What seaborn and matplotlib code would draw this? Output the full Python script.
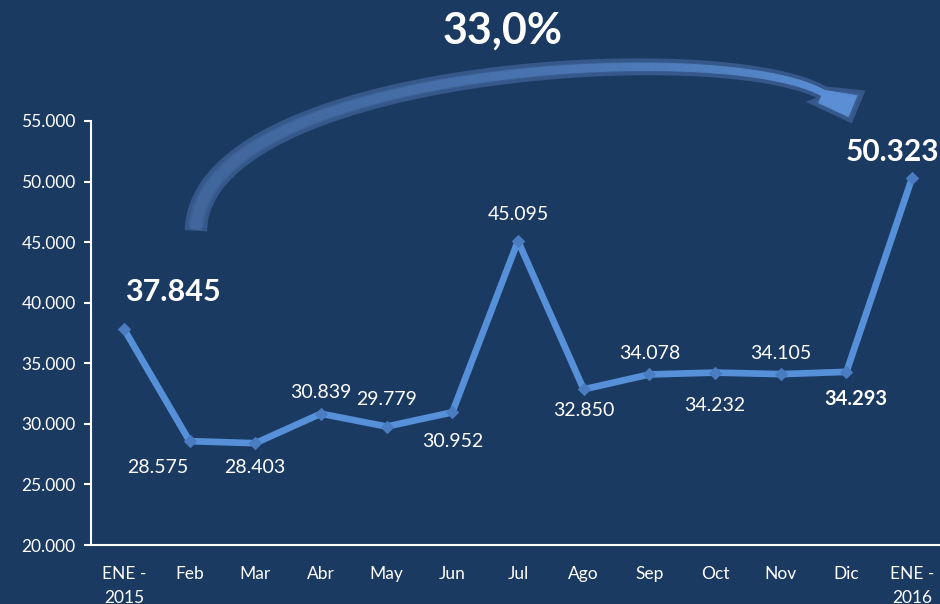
import matplotlib
matplotlib.use('Agg')

import numpy as np
import pandas as pd
import matplotlib.pyplot as plt
import seaborn as sns
from matplotlib.patches import Polygon
from matplotlib.ticker import FuncFormatter, MultipleLocator, FixedLocator

# --- Datos ---
meses = ['ENE -\n2015', 'Feb', 'Mar', 'Abr', 'May', 'Jun', 'Jul',
         'Ago', 'Sep', 'Oct', 'Nov', 'Dic', 'ENE -\n2016']
valores = [37845, 28575, 28403, 30839, 29779, 30952, 45095,
           32850, 34078, 34232, 34105, 34293, 50323]
variacion = '33,0%'

# desplazamiento de cada etiqueta (px) y estilo
offsets = [(49, 37), (-32, -26), (0, -24), (0, 21), (0, 27), (0, -29), (0, 26),
           (0, -21), (0, 21), (0, -33), (0, 21), (9, -27), (-20, 26)]
negritas = {0: 22, 11: 14.5, 12: 21.5}

BG = '#1B3A62'
LINEA = '#5690D9'
MARCA = '#4A7CC2'
TEXTO = '#FFFFFF'

sns.set_theme(style='white')
plt.rcParams.update({
    'figure.facecolor': BG, 'axes.facecolor': BG,
    'axes.edgecolor': TEXTO, 'text.color': TEXTO,
    'xtick.color': TEXTO, 'ytick.color': TEXTO,
})
plt.rcParams['font.family'] = ['Lato', 'DejaVu Sans']

df = pd.DataFrame({'pos': np.arange(len(meses)), 'valor': valores})

fig = plt.figure(figsize=(9.4, 6.04), dpi=100)
ax = fig.add_axes([91 / 940, 59 / 604, 854 / 940, 424 / 604])

sns.lineplot(data=df, x='pos', y='valor', ax=ax, color=LINEA, linewidth=4.8,
             marker='D', markersize=6.5, markerfacecolor=MARCA,
             markeredgecolor=MARCA, sort=False, zorder=3)

ax.set_xlim(-0.5, len(meses) - 0.5)
ax.set_ylim(20000, 55000)
ax.yaxis.set_major_locator(MultipleLocator(5000))
ax.yaxis.set_major_formatter(FuncFormatter(lambda v, p: f'{int(v):,}'.replace(',', '.')))
ax.set_xticks(df['pos'])
ax.set_xticklabels(meses, linespacing=1.6)
ax.xaxis.set_minor_locator(FixedLocator(np.arange(-0.5, len(meses), 1.0)))
ax.tick_params(axis='x', which='major', length=0, pad=15, labelsize=12.5)
ax.tick_params(axis='x', which='minor', length=5, width=1.5, direction='out', color=TEXTO)
ax.tick_params(axis='y', which='major', length=5, width=1.5, direction='out',
               labelsize=12.5, pad=6, left=True)
ax.set_xlabel('')
ax.set_ylabel('')
for lado in ['top', 'right']:
    ax.spines[lado].set_visible(False)
for lado in ['left', 'bottom']:
    ax.spines[lado].set_linewidth(1.5)
    ax.spines[lado].set_color(TEXTO)

# etiquetas de datos
for i, v in enumerate(valores):
    dx, dy = offsets[i]
    txt = f'{v:,}'.replace(',', '.')
    if i in negritas:
        ax.annotate(txt, (i, v), xytext=(dx * 0.72, dy * 0.72), textcoords='offset points',
                    ha='center', va='center', fontsize=negritas[i], fontweight='bold',
                    color=TEXTO, zorder=5)
    else:
        ax.annotate(txt, (i, v), xytext=(dx * 0.72, dy * 0.72), textcoords='offset points',
                    ha='center', va='center', fontsize=14, color=TEXTO, zorder=5)

# --- Flecha curva decorativa (coordenadas en píxeles de la figura) ---
capa = fig.add_axes([0, 0, 1, 1], facecolor='none')
capa.set_xlim(0, 940)
capa.set_ylim(604, 0)
capa.axis('off')

P = np.array([[196, 229], [203, 68], [720, 36], [823, 93]], dtype=float)
t = np.linspace(0, 1, 240)[:, None]
curva = ((1 - t) ** 3 * P[0] + 3 * (1 - t) ** 2 * t * P[1]
         + 3 * (1 - t) * t ** 2 * P[2] + t ** 3 * P[3])
d = np.gradient(curva, axis=0)
d /= np.linalg.norm(d, axis=1)[:, None]
n = np.column_stack([-d[:, 1], d[:, 0]])
ancho = np.linspace(19, 11, len(curva))[:, None] / 2
abajo = curva + n * ancho
arriba = curva - n * ancho
cabeza = np.array([[810, 102], [851, 121], [863, 92]], dtype=float)

contorno = np.vstack([abajo, cabeza, arriba[::-1]])
capa.add_patch(Polygon(contorno, closed=True, facecolor='#3B6094', edgecolor='#35578A',
                       linewidth=2.5, joinstyle='miter', zorder=1))

c0 = np.array([0x41, 0x67, 0x9D]) / 255
c1 = np.array([0x5A, 0x8E, 0xD5]) / 255
interior = ancho * 0.55
for k in range(len(curva) - 1):
    f = k / (len(curva) - 2)
    col = c0 * (1 - f ** 2) + c1 * f ** 2
    seg = np.array([curva[k] + n[k] * interior[k], curva[k + 1] + n[k + 1] * interior[k + 1],
                    curva[k + 1] - n[k + 1] * interior[k + 1], curva[k] - n[k] * interior[k]])
    capa.add_patch(Polygon(seg, closed=True, facecolor=col, edgecolor=col,
                           linewidth=0.6, zorder=2))

centro = cabeza.mean(axis=0)
cabeza_int = centro + (cabeza - centro) * 0.72
capa.add_patch(Polygon(np.vstack([curva[-1] + n[-1] * interior[-1], cabeza_int,
                                  curva[-1] - n[-1] * interior[-1]]),
                       closed=True, facecolor=c1, edgecolor=c1, linewidth=0.6, zorder=2))

fig.text(503 / 940, 1 - 31 / 604, variacion, ha='center', va='center',
         fontsize=31, fontweight='bold', color=TEXTO)

fig.savefig('out.png', dpi=100, facecolor=BG)
plt.close(fig)
